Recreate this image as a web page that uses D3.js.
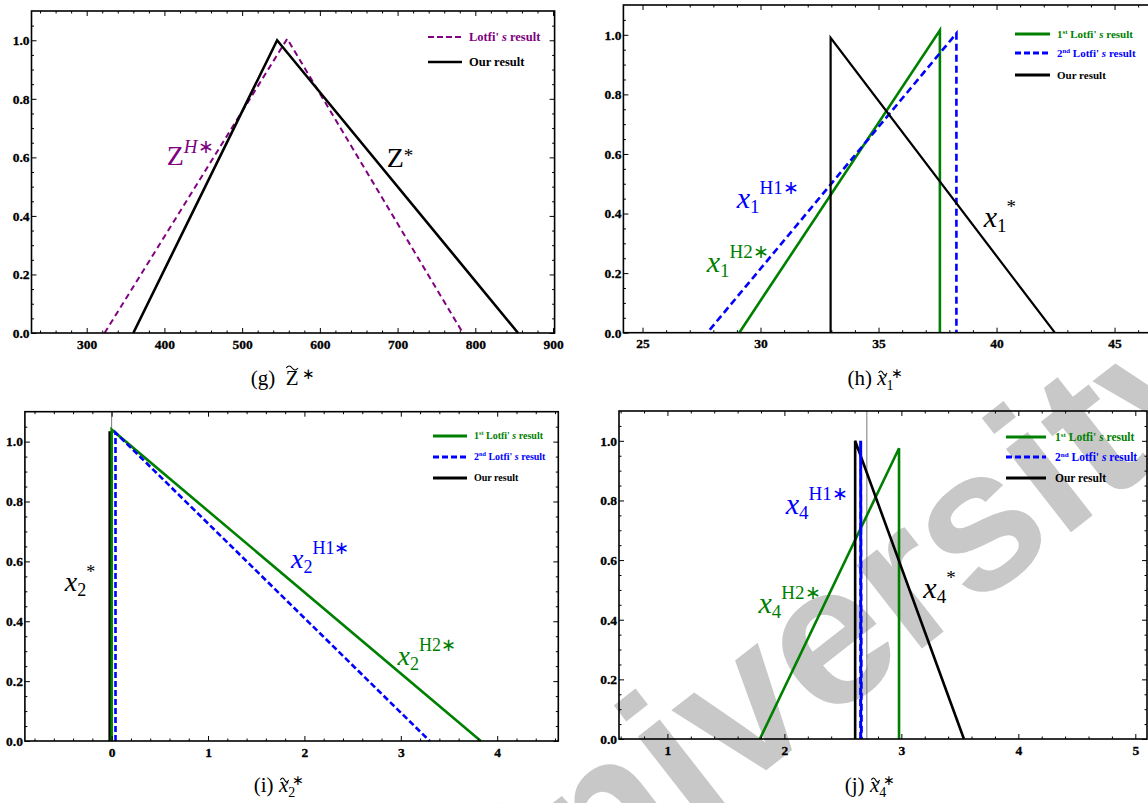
<!DOCTYPE html>
<html>
<head>
<meta charset="utf-8">
<script src="https://cdn.jsdelivr.net/npm/d3@7"></script>
<style>
  body { margin: 0; background: #fff; }
  svg { display: block; }
  svg text { font-family: 'Liberation Serif', 'Times New Roman', serif; }
  .axis text { font-weight: bold; font-size: 13.5px; fill: #000; stroke: #000; stroke-width: 0.3px; }
  .legend text { font-weight: bold; }
  text.mark { font-family: 'Liberation Sans', Arial, sans-serif; font-weight: bold; }
</style>
</head>
<body>
<svg id="chart" width="1148" height="803"></svg>
<script>
// ---- data: [x, membership] ----
// (g) objective value
const zLotfi = [[323, 0], [558, 1.005], [784, 0]];
const zOurs = [[360, 0], [545, 1.0], [855, 0]];
// (h) x1
const x1Lotfi1 = [[29.1, 0], [37.6, 1.015], [37.6, 0]];
const x1Lotfi2 = [[27.85, 0.01], [38.3, 1.005], [38.3, 0]];
const x1Ours = [[32.97, 0], [32.97, 0.99], [42.47, 0]];
// (i) x2
const x2Ours = [[-0.015, 0], [-0.015, 1.035]];
const x2Lotfi1 = [[0, 0], [0, 1.04], [3.83, 0]];
const x2Lotfi2 = [[0.04, 0], [0.04, 1.03], [3.3, 0]];
// (j) x4
const x4Lotfi1 = [[1.79, 0], [2.98, 0.975], [2.98, 0]];
const x4Ours = [[2.605, 0], [2.605, 1.0], [3.535, 0]];
const x4Lotfi2 = [[2.652, 0], [2.652, 1.0], [2.658, 0]];

// tick labels
const yTicks = [0, 0.2, 0.4, 0.6, 0.8, 1.0];
const zTicks = [300, 400, 500, 600, 700, 800, 900];
const x1Ticks = [25, 30, 35, 40, 45];
const x2Ticks = [0, 1, 2, 3, 4];
const x4Ticks = [1, 2, 3, 4, 5];

const purple = "#800080", green = "#008000", blue = "#0000ff";

const svg = d3.select("#chart");
svg.append("rect").attr("width", 1148).attr("height", 803).attr("fill", "#fff");

// watermark sitting under the plots
svg.append("text").attr("class", "mark")
  .attr("transform", "translate(892,606) rotate(-38)")
  .attr("x", -561).attr("y", 52)
  .attr("font-size", 200)
  .attr("fill", "#c8c8c8")
  .text("University");

// writes a list of parts as tspans (sub / superscripts done with dy)
function rich(sel, parts) {
  let cur = 0;
  parts.forEach(p => {
    const shift = p.up ? -p.up : (p.down ? p.down : 0);
    const ts = sel.append("tspan").text(p.t).attr("dy", shift - cur);
    cur = shift;
    if (p.size) ts.style("font-size", p.size);
    if (p.it) ts.style("font-style", "italic");
    if (p.dx) ts.attr("dx", p.dx);
  });
}

const legendParts = {
  lotfi: [{t: "Lotfi' "}, {t: "s", it: true}, {t: " result"}],
  first: [{t: "1"}, {t: "st", up: 4, size: "0.62em"}, {t: " Lotfi' ", up: 0.001}, {t: "s", it: true}, {t: " result"}],
  second: [{t: "2"}, {t: "nd", up: 4, size: "0.62em"}, {t: " Lotfi' ", up: 0.001}, {t: "s", it: true}, {t: " result"}],
  ours: [{t: "Our result"}]
};

function drawPanel(cfg) {
  const [l, r, t, b] = cfg.box;
  const x = d3.scaleLinear().domain(cfg.xDomain).range([l, r]);
  const y = d3.scaleLinear().domain([0, 1.1]).range([b, t]);
  const g = svg.append("g");

  // thin gray axis line that Mathematica leaves inside the frame
  if (cfg.axisAt !== undefined) {
    g.append("line")
      .attr("x1", x(cfg.axisAt)).attr("x2", x(cfg.axisAt))
      .attr("y1", t).attr("y2", b)
      .attr("stroke", "#777").attr("stroke-width", 1);
  }

  const line = d3.line().x(d => x(d[0])).y(d => y(d[1]));
  cfg.series.forEach(s => {
    g.append("path").datum(s.data)
      .attr("d", line)
      .attr("fill", "none")
      .attr("stroke", s.color)
      .attr("stroke-width", s.width)
      .attr("stroke-dasharray", s.dash || null);
  });

  // frame
  g.append("rect")
    .attr("x", l).attr("y", t).attr("width", r - l).attr("height", b - t)
    .attr("fill", "none").attr("stroke", "#000").attr("stroke-width", 1.6);

  const isMajor = (v, list) => list.some(m => Math.abs(m - v) < 1e-6);
  const xMinor = d3.range(cfg.minorStart, cfg.xDomain[1], cfg.minorStep)
    .filter(v => v > cfg.xDomain[0] && !isMajor(v, cfg.xTicks));
  const yMinor = d3.range(0.05, 1.1, 0.05).filter(v => !isMajor(v, yTicks));

  const styleAxis = sel => {
    sel.attr("class", "axis");
    sel.select(".domain").remove();
    sel.selectAll(".tick line").attr("stroke", "#000").attr("stroke-width", 1);
  };

  g.append("g").attr("transform", `translate(0,${b})`)
    .call(d3.axisBottom(x).tickValues(cfg.xTicks).tickSize(-5).tickPadding(6).tickFormat(d3.format("d")))
    .call(styleAxis);
  g.append("g").attr("transform", `translate(0,${b})`)
    .call(d3.axisBottom(x).tickValues(xMinor).tickSize(-2.5).tickFormat(""))
    .call(styleAxis);
  g.append("g").attr("transform", `translate(0,${t})`)
    .call(d3.axisTop(x).tickValues(cfg.xTicks).tickSize(-5).tickFormat(""))
    .call(styleAxis);
  g.append("g").attr("transform", `translate(0,${t})`)
    .call(d3.axisTop(x).tickValues(xMinor).tickSize(-2.5).tickFormat(""))
    .call(styleAxis);
  g.append("g").attr("transform", `translate(${l},0)`)
    .call(d3.axisLeft(y).tickValues(yTicks).tickSize(-5).tickPadding(2).tickFormat(d3.format(".1f")))
    .call(styleAxis);
  g.append("g").attr("transform", `translate(${l},0)`)
    .call(d3.axisLeft(y).tickValues(yMinor).tickSize(-2.5).tickFormat(""))
    .call(styleAxis);
  g.append("g").attr("transform", `translate(${r},0)`)
    .call(d3.axisRight(y).tickValues(yTicks).tickSize(-5).tickFormat(""))
    .call(styleAxis);
  g.append("g").attr("transform", `translate(${r},0)`)
    .call(d3.axisRight(y).tickValues(yMinor).tickSize(-2.5).tickFormat(""))
    .call(styleAxis);

  // curve labels
  cfg.labels.forEach(lb => {
    const txt = g.append("text")
      .attr("x", x(lb.at[0])).attr("y", y(lb.at[1]))
      .style("font-size", (lb.size || 30) + "px")
      .attr("fill", lb.color);
    rich(txt, lb.parts);
  });

  // legend
  const lg = cfg.legend;
  const lgG = g.append("g").attr("class", "legend");
  lg.items.forEach((it, i) => {
    const ly = lg.ys[i];
    lgG.append("line")
      .attr("x1", lg.x0).attr("x2", lg.x1).attr("y1", ly).attr("y2", ly)
      .attr("stroke", it.color).attr("stroke-width", it.width)
      .attr("stroke-dasharray", it.dash || null);
    const txt = lgG.append("text")
      .attr("x", lg.tx).attr("y", ly + lg.size * 0.33)
      .style("font-size", lg.size + "px").attr("fill", it.color);
    rich(txt, legendParts[it.key]);
  });

  // caption with a drawn tilde
  const cap = svg.append("text")
    .attr("x", cfg.caption.x).attr("y", cfg.caption.y)
    .attr("text-anchor", "middle")
    .style("font-size", "21px").attr("fill", "#000");
  rich(cap, cfg.caption.parts);
  let idx = 0;
  cfg.caption.parts.forEach(p => {
    if (p.tilde) {
      const e = cap.node().getExtentOfChar(idx);
      const w = e.width - 1;
      const x0 = e.x + (p.it ? 1.5 : 0.5);
      const ty = cfg.caption.y - p.tilde;
      svg.append("path")
        .attr("d", `M${x0},${ty + 1} q${w / 4},-4 ${w / 2},0 t${w / 2},0`)
        .attr("fill", "none").attr("stroke", "#000").attr("stroke-width", 1.1);
    }
    idx += p.t.length;
  });
}

// (g)
drawPanel({
  box: [31.5, 554.6, 11, 333], xDomain: [229, 902],
  xTicks: zTicks, minorStart: 240, minorStep: 20,
  series: [
    {data: zLotfi, color: purple, width: 2, dash: "6,4"},
    {data: zOurs, color: "#000", width: 2.6}
  ],
  labels: [
    {at: [403, 0.573], color: purple, size: 28,
     parts: [{t: "Z"}, {t: "H", it: true, up: 12, size: "19px"}, {t: "\u2217", up: 12, size: "19px"}]},
    {at: [686, 0.567], color: "#000", size: 28,
     parts: [{t: "Z"}, {t: "*", up: 5, size: "19px"}]}
  ],
  legend: {x0: 428, x1: 462, tx: 469, ys: [37, 62], size: 12.5, items: [
    {key: "lotfi", color: purple, width: 2.2, dash: "6,3"},
    {key: "ours", color: "#000", width: 2.6}
  ]},
  caption: {x: 283, y: 385, parts: [{t: "(g)\u00a0\u00a0"}, {t: "Z", tilde: 18}, {t: "\u00a0\u2217", up: 6, size: "15px"}]}
});

// (h)
drawPanel({
  box: [623.4, 1170, 5, 332.7], xDomain: [24.19, 47.35],
  xTicks: x1Ticks, minorStart: 25, minorStep: 1,
  series: [
    {data: x1Lotfi1, color: green, width: 2.6},
    {data: x1Lotfi2, color: blue, width: 2.6, dash: "7,4"},
    {data: x1Ours, color: "#000", width: 2.2}
  ],
  labels: [
    {at: [28.99, 0.419], color: blue,
     parts: [{t: "x", it: true}, {t: "1", down: 5, size: "19px"}, {t: "H1", up: 14, size: "19px"}, {t: "\u2217", up: 14, size: "19px"}]},
    {at: [27.72, 0.205], color: green,
     parts: [{t: "x", it: true}, {t: "1", down: 5, size: "19px"}, {t: "H2", up: 14, size: "19px"}, {t: "\u2217", up: 14, size: "19px"}]},
    {at: [39.46, 0.356], color: "#000",
     parts: [{t: "x", it: true}, {t: "1", down: 5, size: "19px"}, {t: "*", up: 14, size: "19px"}]}
  ],
  legend: {x0: 1015, x1: 1050, tx: 1057, ys: [34, 53, 75], size: 11, items: [
    {key: "first", color: green, width: 3},
    {key: "second", color: blue, width: 3, dash: "6,3"},
    {key: "ours", color: "#000", width: 3}
  ]},
  caption: {x: 875, y: 385, parts: [{t: "(h)\u00a0"}, {t: "x", it: true, tilde: 13}, {t: "1", down: 5, size: "14px"}, {t: "\u2217", up: 7, size: "14px", dx: -3}]}
});

// (i)
drawPanel({
  box: [24.9, 558.3, 411.7, 741], xDomain: [-0.9, 4.634], axisAt: 0,
  xTicks: x2Ticks, minorStart: -0.8, minorStep: 0.2,
  series: [
    {data: x2Ours, color: "#000", width: 3.6},
    {data: x2Lotfi1, color: green, width: 2.6},
    {data: x2Lotfi2, color: blue, width: 2.6, dash: "6,3"}
  ],
  labels: [
    {at: [-0.487, 0.5], color: "#000", size: 28,
     parts: [{t: "x", it: true}, {t: "2", down: 5, size: "18px"}, {t: "*", up: 13, size: "18px"}]},
    {at: [1.861, 0.578], color: blue, size: 28,
     parts: [{t: "x", it: true}, {t: "2", down: 5, size: "18px"}, {t: "H1", up: 14, size: "18px"}, {t: "\u2217", up: 14, size: "18px"}]},
    {at: [2.966, 0.254], color: green, size: 28,
     parts: [{t: "x", it: true}, {t: "2", down: 5, size: "18px"}, {t: "H2", up: 14, size: "18px"}, {t: "\u2217", up: 14, size: "18px"}]}
  ],
  legend: {x0: 433, x1: 467, tx: 474, ys: [436, 457, 478], size: 10, items: [
    {key: "first", color: green, width: 3},
    {key: "second", color: blue, width: 3, dash: "6,3"},
    {key: "ours", color: "#000", width: 3}
  ]},
  caption: {x: 279, y: 792, parts: [{t: "(i)\u00a0"}, {t: "x", it: true, tilde: 13}, {t: "2", down: 5, size: "14px"}, {t: "\u2217", up: 7, size: "14px", dx: -3}]}
});

// (j)
drawPanel({
  box: [619, 1147, 411, 739], xDomain: [0.586, 5.1], axisAt: 2.705,
  xTicks: x4Ticks, minorStart: 0.6, minorStep: 0.2,
  series: [
    {data: x4Lotfi1, color: green, width: 2.6},
    {data: x4Ours, color: "#000", width: 2.6},
    {data: x4Lotfi2, color: blue, width: 3, dash: "7,4"}
  ],
  labels: [
    {at: [2.011, 0.753], color: blue,
     parts: [{t: "x", it: true}, {t: "4", down: 5, size: "19px"}, {t: "H1", up: 14, size: "19px"}, {t: "\u2217", up: 14, size: "19px"}]},
    {at: [1.779, 0.423], color: green,
     parts: [{t: "x", it: true}, {t: "4", down: 5, size: "19px"}, {t: "H2", up: 14, size: "19px"}, {t: "\u2217", up: 14, size: "19px"}]},
    {at: [3.188, 0.473], color: "#000",
     parts: [{t: "x", it: true}, {t: "4", down: 5, size: "19px"}, {t: "*", up: 14, size: "19px"}]}
  ],
  legend: {x0: 1006, x1: 1046, tx: 1055, ys: [437, 457, 478], size: 11.5, items: [
    {key: "first", color: green, width: 3},
    {key: "second", color: blue, width: 3, dash: "6,3"},
    {key: "ours", color: "#000", width: 3}
  ]},
  caption: {x: 870, y: 792, parts: [{t: "(j)\u00a0"}, {t: "x", it: true, tilde: 13}, {t: "4", down: 5, size: "14px"}, {t: "\u2217", up: 7, size: "14px", dx: -3}]}
});
</script>
</body>
</html>
